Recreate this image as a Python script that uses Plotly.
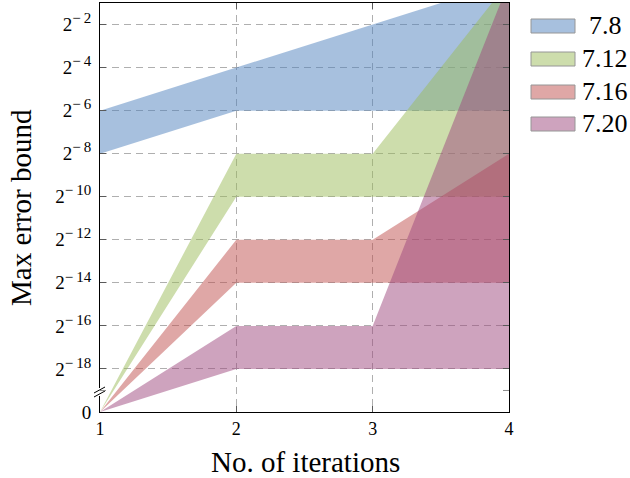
import math
import plotly.graph_objects as go

# ---------------- data ----------------
iterations = [1, 2, 3, 4]
series_names = ["7.8", "7.12", "7.16", "7.20"]

lower_7_8 = [2**-8, 2**-6, 2**-6, 2**-6]
upper_7_8 = [2**-6, 2**-4, 2**-2, 2**0]
lower_7_12 = [0, 2**-10, 2**-10, 2**-10]
upper_7_12 = [0, 2**-8, 2**-8, 2**0]
lower_7_16 = [0, 2**-14, 2**-14, 2**-14]
upper_7_16 = [0, 2**-12, 2**-12, 2**-8]
lower_7_20 = [0, 2**-18, 2**-18, 2**-18]
upper_7_20 = [0, 2**-16, 2**-16, 2**0]

ytick_exponents = [-2, -4, -6, -8, -10, -12, -14, -16, -18]
xtick_labels = ["1", "2", "3", "4"]

# ---------------- style ----------------
base_colors = ["rgb(79,129,189)", "rgb(155,187,89)", "rgb(192,80,77)", "rgb(158,72,126)"]
FONT = "Liberation Serif"
ZERO_POS = -20      # axis position where the value 0 is drawn (axis break)
BREAK_POS = -19
Y_TOP = -1

W, H = 630, 478
L, R, T, B = 100, 121, 3, 66
PW, PH = W - L - R, H - T - B


def ypos(v):
    return math.log2(v) if v > 0 else ZERO_POS


def px(xp):
    return (xp - L) / PW


def py(yp):
    return (H - B - yp) / PH


bands = [
    (lower_7_8, upper_7_8),
    (lower_7_12, upper_7_12),
    (lower_7_16, upper_7_16),
    (lower_7_20, upper_7_20),
]

fig = go.Figure()
for name, (lo, hi), col in zip(series_names, bands, base_colors):
    xs = iterations + iterations[::-1]
    ys = [ypos(v) for v in hi] + [ypos(v) for v in lo[::-1]]
    fig.add_trace(go.Scatter(
        x=xs, y=ys, fill="toself", mode="lines", line=dict(width=0),
        fillcolor=col, opacity=0.5, name=name, showlegend=False,
        hoverinfo="skip",
    ))

tickvals = [ZERO_POS] + ytick_exponents
ticktext = ["0"] + [
    "2<sup><span style='font-size:15px'>\u2212\u2009%d</span></sup>" % (-e)
    for e in ytick_exponents
]

axis_common = dict(
    showline=True, linecolor="black", linewidth=1, mirror="allticks",
    ticks="inside", ticklen=6, tickcolor="rgb(90,90,90)", tickwidth=1,
    showgrid=True, gridcolor="rgb(175,175,175)", gridwidth=1, griddash="7px,5px",
    zeroline=False, layer="above traces",
)

fig.update_xaxes(range=[1, 4], tickvals=iterations, ticktext=xtick_labels,
                 tickfont=dict(family=FONT, size=18, color="black"), **axis_common)
fig.update_yaxes(range=[ZERO_POS, Y_TOP], tickvals=tickvals, ticktext=ticktext,
                 tickfont=dict(family=FONT, size=19, color="black"),
                 ticklabelstandoff=4, **axis_common)

shapes = []
# axis-break marks on the y axis
shapes.append(dict(type="rect", xref="paper", yref="paper",
                   x0=px(98), x1=px(102), y0=py(396), y1=py(388),
                   fillcolor="white", line=dict(width=0), layer="above"))
for dy in (0, 4):
    shapes.append(dict(type="line", xref="paper", yref="paper",
                       x0=px(94), x1=px(105), y0=py(393 + dy), y1=py(387 + dy),
                       line=dict(color="black", width=1), layer="above"))
# tick at break position on both sides
shapes.append(dict(type="line", xref="paper", yref="y", x0=px(100), x1=px(106),
                   y0=BREAK_POS, y1=BREAK_POS, line=dict(color="rgb(140,140,140)", width=1)))
shapes.append(dict(type="line", xref="paper", yref="y", x0=1 - 6 / PW, x1=1,
                   y0=BREAK_POS, y1=BREAK_POS, line=dict(color="rgb(140,140,140)", width=1)))

annotations = []
# legend (manual)
legend_rows = [26, 59, 92, 124]
for name, col, yc in zip(series_names, base_colors, legend_rows):
    shapes.append(dict(type="rect", xref="paper", yref="paper",
                       x0=px(531), x1=px(575), y0=py(yc + 7), y1=py(yc - 7),
                       fillcolor=col, opacity=0.5, line=dict(width=0)))
    shapes.append(dict(type="rect", xref="paper", yref="paper",
                       x0=px(531), x1=px(575), y0=py(yc + 7), y1=py(yc - 7),
                       line=dict(color="rgb(150,150,150)", width=1)))
    annotations.append(dict(text=name, xref="paper", yref="paper", x=px(605), y=py(yc),
                            xanchor="center", yanchor="middle", showarrow=False,
                            font=dict(family=FONT, size=26, color="black")))

annotations.append(dict(text="Max error bound", xref="paper", yref="paper",
                        x=px(21), y=py(208), textangle=-90, xanchor="center", yanchor="middle",
                        showarrow=False, font=dict(family=FONT, size=29, color="black")))
annotations.append(dict(text="No. of iterations", xref="paper", yref="paper",
                        x=px(305), y=py(462), xanchor="center", yanchor="middle",
                        showarrow=False, font=dict(family=FONT, size=29, color="black")))

fig.update_layout(
    width=W, height=H,
    margin=dict(l=L, r=R, t=T, b=B, autoexpand=False),
    paper_bgcolor="white", plot_bgcolor="white",
    showlegend=False, shapes=shapes, annotations=annotations,
)

fig.write_html("out.html")
